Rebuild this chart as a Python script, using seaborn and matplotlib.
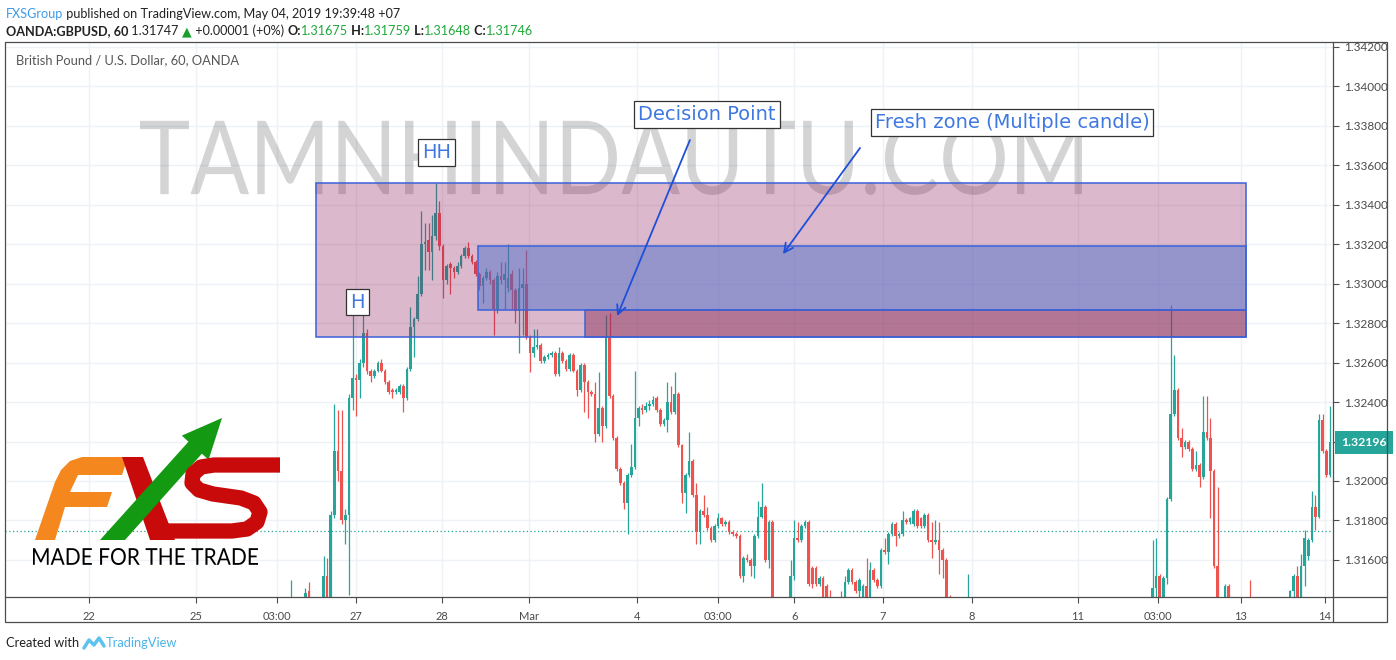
import numpy as np
import pandas as pd
import seaborn as sns
import matplotlib
matplotlib.use("Agg")
import matplotlib.pyplot as plt
import matplotlib.colors as mcolors
from matplotlib.patches import Rectangle, Polygon, PathPatch
from matplotlib.textpath import TextPath
from matplotlib.font_manager import FontProperties
from matplotlib.transforms import Affine2D, blended_transform_factory

sns.set_theme(style="white")
plt.rcParams["font.family"] = ["Lato", "DejaVu Sans"]

nan = np.nan

# ---------------- data (hourly GBPUSD bars, OANDA) ----------------
first_hour = 79  # hour index of first listed bar on the chart's time axis

opens = [
    1.3132, nan, nan, nan, 1.3140, 1.3144, nan, nan, nan, 1.3136,
    1.3152, 1.3141, 1.3183, 1.3215, 1.3205, 1.3180, 1.3183, 1.3242, 1.3252, 1.3251,
    1.3260, 1.3275, 1.3256, 1.3253, 1.3256, 1.3260, 1.3256, 1.3250, 1.3246, 1.3245,
    1.3245, 1.3248, 1.3242, 1.3257, 1.3278, 1.3282, 1.3295, 1.3320, 1.3322, 1.3316,
    1.3324, 1.3336, 1.3319, 1.3302, 1.3310, 1.3308, 1.3306, 1.3309, 1.3314, 1.3318,
    1.3314, 1.3311, 1.3305, 1.3299, 1.3303, 1.3306, 1.3302, 1.3287, 1.3304, 1.3302,
    1.3298, 1.3305, 1.3297, 1.3286, 1.3298, 1.3300, 1.3273, 1.3265, 1.3268, 1.3269,
    1.3261, 1.3263, 1.3264, 1.3265, 1.3254, 1.3265, 1.3261, 1.3257, 1.3264, 1.3256,
    1.3246, 1.3259, 1.3250, 1.3245, 1.3244, 1.3224, 1.3237, 1.3228, 1.3273, 1.3243,
    1.3222, 1.3206, 1.3199, 1.3189, 1.3203, 1.3207, 1.3232, 1.3237, 1.3236, 1.3238,
    1.3239, 1.3242, 1.3236, 1.3229, 1.3231, 1.3240, 1.3235, 1.3244, 1.3218, 1.3194,
    1.3203, 1.3210, 1.3193, 1.3174, 1.3185, 1.3183, 1.3176, 1.3170, 1.3177, 1.3181,
    1.3178, 1.3179, 1.3174, 1.3173, 1.3172, 1.3152, 1.3161, 1.3160, 1.3157, 1.3172,
    1.3182, 1.3187, 1.3160, 1.3179, nan, nan, nan, nan, 1.3130, 1.3152,
    1.3171, 1.3170, 1.3177, 1.3179, 1.3156, 1.3156, 1.3148, 1.3151, 1.3147, 1.3140,
    nan, nan, 1.3138, 1.3135, 1.3149, 1.3155, 1.3149, 1.3144, 1.3140, 1.3147,
    1.3140, 1.3155, 1.3150, 1.3147, 1.3165, 1.3164, 1.3173, 1.3178, 1.3172, 1.3173,
    1.3180, 1.3179, 1.3178, 1.3185, 1.3181, 1.3177, 1.3183, 1.3170, 1.3169, 1.3170,
    1.3165, 1.3160, 1.3135, nan, nan, nan, nan, 1.3130, nan, nan,
] + [nan] * 48 + [
    1.3135, 1.3146, 1.3152, 1.3140, 1.3151, 1.3191, 1.3234, 1.3246, 1.3222, 1.3217,
    1.3220, 1.3216, 1.3206, 1.3208, 1.3202, 1.3225, 1.3222, 1.3205, 1.3157, nan,
    1.3135, 1.3147, nan, nan, nan, nan, nan, 1.3138, nan, nan,
    nan, nan, nan, nan, nan, nan, nan, nan, 1.3135, 1.3144,
    1.3152, 1.3140, 1.3157, 1.3162, 1.3170, 1.3187, 1.3182, 1.3231, 1.3215, 1.3203,
]

highs = [
    1.3150, nan, nan, nan, 1.3146, 1.3149, nan, nan, nan, 1.3162,
    1.3161, 1.3185, 1.3239, 1.3236, 1.3236, 1.3186, 1.3244, 1.3284, 1.3254, 1.3262,
    1.3289, 1.3277, 1.3257, 1.3257, 1.3261, 1.3262, 1.3257, 1.3251, 1.3247, 1.3247,
    1.3249, 1.3249, 1.3258, 1.3288, 1.3283, 1.3304, 1.3337, 1.3331, 1.3331, 1.3335,
    1.3351, 1.3342, 1.3320, 1.3310, 1.3311, 1.3309, 1.3311, 1.3315, 1.3319, 1.3321,
    1.3315, 1.3312, 1.3306, 1.3304, 1.3308, 1.3307, 1.3303, 1.3306, 1.3311, 1.3311,
    1.3320, 1.3307, 1.3298, 1.3308, 1.3308, 1.3317, 1.3274, 1.3277, 1.3277, 1.3270,
    1.3264, 1.3265, 1.3266, 1.3266, 1.3268, 1.3266, 1.3262, 1.3265, 1.3265, 1.3257,
    1.3260, 1.3260, 1.3251, 1.3246, 1.3250, 1.3255, 1.3238, 1.3284, 1.3285, 1.3244,
    1.3223, 1.3207, 1.3200, 1.3204, 1.3219, 1.3256, 1.3238, 1.3239, 1.3240, 1.3241,
    1.3243, 1.3243, 1.3237, 1.3232, 1.3250, 1.3248, 1.3255, 1.3245, 1.3219, 1.3204,
    1.3225, 1.3211, 1.3199, 1.3186, 1.3193, 1.3187, 1.3177, 1.3178, 1.3184, 1.3182,
    1.3180, 1.3180, 1.3175, 1.3174, 1.3173, 1.3162, 1.3163, 1.3161, 1.3173, 1.3190,
    1.3199, 1.3188, 1.3180, 1.3180, nan, nan, nan, nan, 1.3160, 1.3180,
    1.3179, 1.3178, 1.3180, 1.3180, 1.3157, 1.3157, 1.3152, 1.3152, 1.3148, 1.3145,
    nan, nan, 1.3144, 1.3152, 1.3156, 1.3156, 1.3150, 1.3151, 1.3148, 1.3161,
    1.3159, 1.3156, 1.3151, 1.3166, 1.3171, 1.3174, 1.3179, 1.3179, 1.3174, 1.3185,
    1.3181, 1.3182, 1.3186, 1.3186, 1.3182, 1.3184, 1.3184, 1.3179, 1.3180, 1.3179,
    1.3166, 1.3161, 1.3142, nan, nan, nan, nan, 1.3153, nan, nan,
] + [nan] * 48 + [
    1.3170, 1.3171, 1.3153, 1.3152, 1.3192, 1.3289, 1.3264, 1.3247, 1.3227, 1.3221,
    1.3221, 1.3217, 1.3215, 1.3209, 1.3243, 1.3243, 1.3232, 1.3206, 1.3197, nan,
    1.3148, 1.3148, nan, nan, nan, nan, nan, 1.3150, nan, nan,
    nan, nan, nan, nan, nan, nan, nan, nan, 1.3145, 1.3153,
    1.3157, 1.3163, 1.3175, 1.3171, 1.3195, 1.3193, 1.3234, 1.3234, 1.3216, 1.3238,
]

lows = [
    1.3128, nan, nan, nan, 1.3138, 1.3136, nan, nan, nan, 1.3132,
    1.3136, 1.3137, 1.3181, 1.3200, 1.3178, 1.3168, 1.3142, 1.3236, 1.3233, 1.3242,
    1.3258, 1.3254, 1.3250, 1.3252, 1.3255, 1.3255, 1.3249, 1.3244, 1.3242, 1.3244,
    1.3244, 1.3235, 1.3241, 1.3256, 1.3263, 1.3281, 1.3294, 1.3307, 1.3307, 1.3302,
    1.3322, 1.3317, 1.3293, 1.3300, 1.3295, 1.3303, 1.3305, 1.3308, 1.3313, 1.3313,
    1.3310, 1.3304, 1.3297, 1.3290, 1.3302, 1.3300, 1.3274, 1.3285, 1.3300, 1.3287,
    1.3296, 1.3287, 1.3280, 1.3265, 1.3274, 1.3272, 1.3255, 1.3263, 1.3267, 1.3260,
    1.3260, 1.3262, 1.3263, 1.3253, 1.3253, 1.3260, 1.3256, 1.3256, 1.3255, 1.3243,
    1.3245, 1.3235, 1.3232, 1.3243, 1.3220, 1.3223, 1.3220, 1.3227, 1.3242, 1.3221,
    1.3205, 1.3198, 1.3186, 1.3173, 1.3202, 1.3206, 1.3228, 1.3234, 1.3235, 1.3236,
    1.3238, 1.3235, 1.3228, 1.3228, 1.3225, 1.3234, 1.3234, 1.3217, 1.3189, 1.3184,
    1.3202, 1.3192, 1.3168, 1.3168, 1.3182, 1.3175, 1.3169, 1.3169, 1.3176, 1.3177,
    1.3177, 1.3173, 1.3172, 1.3171, 1.3151, 1.3149, 1.3159, 1.3152, 1.3151, 1.3171,
    1.3181, 1.3159, 1.3156, 1.3125, nan, nan, nan, nan, 1.3125, 1.3150,
    1.3169, 1.3169, 1.3176, 1.3147, 1.3146, 1.3147, 1.3147, 1.3130, 1.3130, 1.3130,
    nan, nan, 1.3130, 1.3130, 1.3148, 1.3148, 1.3143, 1.3140, 1.3135, 1.3135,
    1.3138, 1.3149, 1.3146, 1.3146, 1.3163, 1.3158, 1.3172, 1.3167, 1.3171, 1.3172,
    1.3178, 1.3178, 1.3177, 1.3176, 1.3176, 1.3176, 1.3169, 1.3161, 1.3168, 1.3153,
    1.3151, 1.3125, 1.3125, nan, nan, nan, nan, 1.3125, nan, nan,
] + [nan] * 48 + [
    1.3130, 1.3140, 1.3135, 1.3135, 1.3148, 1.3190, 1.3233, 1.3221, 1.3212, 1.3216,
    1.3215, 1.3205, 1.3205, 1.3197, 1.3201, 1.3221, 1.3181, 1.3156, 1.3125, nan,
    1.3130, 1.3130, nan, nan, nan, nan, nan, 1.3130, nan, nan,
    nan, nan, nan, nan, nan, nan, nan, nan, 1.3130, 1.3140,
    1.3135, 1.3137, 1.3147, 1.3160, 1.3169, 1.3175, 1.3181, 1.3214, 1.3202, 1.3202,
]

closes = [
    1.3138, nan, nan, nan, 1.3143, 1.3141, nan, nan, nan, 1.3152,
    1.3141, 1.3183, 1.3215, 1.3205, 1.3180, 1.3183, 1.3242, 1.3252, 1.3251, 1.3260,
    1.3275, 1.3256, 1.3253, 1.3256, 1.3260, 1.3256, 1.3250, 1.3245, 1.3245, 1.3246,
    1.3248, 1.3242, 1.3257, 1.3278, 1.3282, 1.3295, 1.3320, 1.3321, 1.3316, 1.3324,
    1.3336, 1.3319, 1.3302, 1.3309, 1.3308, 1.3306, 1.3309, 1.3314, 1.3318, 1.3314,
    1.3311, 1.3305, 1.3299, 1.3303, 1.3306, 1.3302, 1.3287, 1.3304, 1.3302, 1.3305,
    1.3303, 1.3297, 1.3286, 1.3298, 1.3300, 1.3273, 1.3265, 1.3268, 1.3269, 1.3261,
    1.3263, 1.3264, 1.3265, 1.3254, 1.3265, 1.3261, 1.3257, 1.3264, 1.3256, 1.3246,
    1.3259, 1.3250, 1.3245, 1.3244, 1.3224, 1.3237, 1.3228, 1.3273, 1.3243, 1.3222,
    1.3206, 1.3199, 1.3189, 1.3203, 1.3207, 1.3232, 1.3237, 1.3236, 1.3238, 1.3239,
    1.3241, 1.3236, 1.3229, 1.3231, 1.3240, 1.3235, 1.3244, 1.3218, 1.3194, 1.3203,
    1.3210, 1.3193, 1.3174, 1.3185, 1.3183, 1.3176, 1.3170, 1.3177, 1.3181, 1.3178,
    1.3179, 1.3174, 1.3173, 1.3172, 1.3152, 1.3161, 1.3160, 1.3157, 1.3172, 1.3182,
    1.3187, 1.3160, 1.3179, 1.3130, nan, nan, nan, nan, 1.3152, 1.3171,
    1.3170, 1.3177, 1.3179, 1.3148, 1.3148, 1.3148, 1.3151, 1.3135, 1.3135, 1.3135,
    nan, nan, 1.3135, 1.3149, 1.3155, 1.3149, 1.3144, 1.3150, 1.3147, 1.3138,
    1.3155, 1.3150, 1.3147, 1.3165, 1.3164, 1.3173, 1.3178, 1.3172, 1.3173, 1.3180,
    1.3179, 1.3181, 1.3185, 1.3177, 1.3177, 1.3183, 1.3170, 1.3169, 1.3170, 1.3165,
    1.3160, 1.3130, 1.3130, nan, nan, nan, nan, 1.3135, nan, nan,
] + [nan] * 48 + [
    1.3146, 1.3152, 1.3140, 1.3151, 1.3191, 1.3234, 1.3246, 1.3222, 1.3217, 1.3220,
    1.3216, 1.3206, 1.3208, 1.3202, 1.3225, 1.3222, 1.3205, 1.3157, 1.3130, nan,
    1.3147, 1.3135, nan, nan, nan, nan, nan, 1.3135, nan, nan,
    nan, nan, nan, nan, nan, nan, nan, nan, 1.3144, 1.3152,
    1.3140, 1.3157, 1.3171, 1.3170, 1.3187, 1.3182, 1.3231, 1.3215, 1.3203, 1.32196,
]

last_price = 1.32196
header_price = 1.31747

x_tick_labels = ["22", "25", "03:00", "27", "28", "Mar", "4", "03:00",
                 "6", "7", "8", "11", "03:00", "13", "14"]
x_tick_hours = [23.2, 52.8, 75.1, 97.0, 120.7, 144.8, 174.6, 197.0,
                218.0, 242.5, 267.1, 296.4, 318.5, 341.4, 364.6]
y_ticks = [1.316, 1.318, 1.320, 1.322, 1.324, 1.326, 1.328, 1.330,
           1.332, 1.334, 1.336, 1.338, 1.340, 1.342]

# supply / demand zones drawn on the chart (time in hours, price)
zone_start = [85.9, 130.7, 160.2]
zone_end = [342.8, 342.8, 342.8]
zone_top = [1.33511, 1.33191, 1.32867]
zone_bottom = [1.32730, 1.32867, 1.32730]
zone_colors = [("#8a1658", 0.30), ("#5073cd", 0.50), ("#8c375f", 0.50)]

# text labels (time, price)
label_texts = ["HH", "H", "Decision Point", "Fresh zone (Multiple candle)"]
label_hours = [119.1, 97.4, 193.9, 278.2]
label_prices = [1.33663, 1.32907, 1.33858, 1.33817]

# arrows (tail -> tip)
arrow_tail_hours = [189.2, 236.2]
arrow_tail_prices = [1.33728, 1.33688]
arrow_tip_hours = [169.1, 214.9]
arrow_tip_prices = [1.32836, 1.33150]

GREEN = "#26a69a"
RED = "#ef5350"

df = pd.DataFrame({"o": opens, "h": highs, "l": lows, "c": closes})
df["t"] = first_hour + np.arange(len(df))
df = df.dropna().reset_index(drop=True)
df["up"] = df["c"] >= df["o"]
df["col"] = np.where(df["up"], GREEN, RED)

W, H = 1396, 660
fig = plt.figure(figsize=(W / 100, H / 100), dpi=100)
fig.patch.set_facecolor("white")

ax = fig.add_axes([5 / W, 63 / H, 1328 / W, 555 / H])
ax_o = fig.add_axes([0, 0, 1, 1], zorder=5)
ax_o.set_xlim(0, W)
ax_o.set_ylim(H, 0)
ax_o.axis("off")
ax_o.patch.set_alpha(0)

ax.set_facecolor("white")
ax.set_xlim(0, 366.85)
ax.set_ylim(1.31412, 1.34225)
ax.autoscale(False)

# watermark (behind the candles)
wm_prop = FontProperties(family="Lato", weight="normal")
wm_path = TextPath((0, 0), "TAMNHINDAUTU.COM", size=100, prop=wm_prop)
ext = wm_path.get_extents()
wm_tr = (Affine2D().translate(-ext.x0, -ext.y0)
         .scale(942 / ext.width, -75 / ext.height).translate(140, 195))
ax.add_patch(PathPatch(wm_tr.transform_path(wm_path), transform=ax_o.transData,
                       facecolor="black", edgecolor="none", alpha=0.17, zorder=0.8))

# grid
ax.set_xticks(x_tick_hours)
ax.set_xticklabels(x_tick_labels)
ax.set_yticks(y_ticks)
# the tick hidden behind the last-price tag is left without a label
ax.set_yticklabels(["" if abs(v - last_price) < 0.0008 else f"{v:.5f}" for v in y_ticks])
ax.grid(True, color="#eef1f6", lw=1.0)
ax.set_axisbelow(True)
for s in ax.spines.values():
    s.set_visible(False)
ax.yaxis.tick_right()
ax.tick_params(axis="y", right=True, left=False, length=4, width=0.8, color="#4d4d4d",
               labelsize=8.5, labelcolor="#4a4a4a", pad=4)
ax.tick_params(axis="x", bottom=True, length=4, width=0.8, color="#4d4d4d",
               labelsize=8, labelcolor="#4a4a4a", pad=6)

# current price dotted line
ax.axhline(header_price, color=GREEN, lw=0.9, ls=(0, (1, 2)), zorder=1.5)

# candles
ax.vlines(df["t"], df["l"], df["h"], colors=df["col"], lw=0.9, zorder=2)
body_bottom = np.minimum(df["o"], df["c"])
body_h = np.maximum((df["c"] - df["o"]).abs(), 0.00004)
ax.bar(df["t"], body_h, bottom=body_bottom, width=0.72, color=df["col"],
       linewidth=0, zorder=3)

# zones
for x0, x1, top, bot, (colr, a) in zip(zone_start, zone_end, zone_top, zone_bottom, zone_colors):
    ax.add_patch(Rectangle((x0, bot), x1 - x0, top - bot,
                           facecolor=mcolors.to_rgba(colr, a),
                           edgecolor="#3a62d9", lw=1.1, zorder=4))

# labels
for txt, hx, py in zip(label_texts, label_hours, label_prices):
    ax.text(hx, py, txt, ha="center", va="center", fontsize=14,
            family="DejaVu Sans", color="#3f78e0", zorder=6,
            bbox=dict(boxstyle="square,pad=0.2", fc="white", ec="#333333", lw=0.9))

for th, tp, hh, hp in zip(arrow_tail_hours, arrow_tail_prices, arrow_tip_hours, arrow_tip_prices):
    ax.annotate("", xy=(hh, hp), xytext=(th, tp),
                arrowprops=dict(arrowstyle="->", color="#1f4fd8", lw=1.3,
                                mutation_scale=16, shrinkA=0, shrinkB=0), zorder=6)

# last price tag on the price scale
btr = blended_transform_factory(ax.transAxes, ax.transData)
ax.text(1.0060, last_price, f"{last_price:.5f}", transform=btr, ha="left", va="center",
        fontsize=8.8, fontweight="bold", color="white", clip_on=False, zorder=10,
        bbox=dict(boxstyle="square,pad=0.5", fc=GREEN, ec="none"))

# ---------------- overlay: frame, header, logo ----------------
fc = "#4d4d4d"
ax_o.plot([5, 1387, 1387, 5, 5], [42, 42, 622, 622, 42], color=fc, lw=0.9)
ax_o.plot([1333, 1333], [42, 622], color=fc, lw=0.9)
ax_o.plot([5, 1387], [597, 597], color=fc, lw=0.9)


def chain(parts, x, y, size):
    prev = None
    for txt, color, weight in parts:
        if prev is None:
            prev = ax_o.text(x, y, txt, color=color, fontsize=size, fontweight=weight,
                             va="baseline", ha="left")
        else:
            prev = ax_o.annotate(txt, xy=(1, 0), xycoords=prev, va="bottom", ha="left",
                                 color=color, fontsize=size, fontweight=weight)
    return prev


DARK = "#222222"
VAL = "#1fa83a"
chain([("FXSGroup", "#3d9be9", "normal"),
       (" published on TradingView.com, May 04, 2019 19:39:48 +07", DARK, "normal")],
      6, 18, 9.1)
chain([("OANDA:GBPUSD, 60", DARK, "bold"), (" 1.31747 ", DARK, "normal"),
       ("\u25B2", "#1a9e2c", "normal"), (" +0.00001 (+0%) ", DARK, "normal"),
       ("O:", DARK, "bold"), ("1.31675", VAL, "normal"), (" H:", DARK, "bold"),
       ("1.31759", VAL, "normal"), (" L:", DARK, "bold"), ("1.31648", VAL, "normal"),
       (" C:", DARK, "bold"), ("1.31746", VAL, "normal")],
      6, 35, 9.1)
ax_o.text(16, 64, "British Pound / U.S. Dollar, 60, OANDA", color="#555555",
          fontsize=9.3, va="baseline", ha="left")
ax_o.text(6, 647, "Created with", color=DARK, fontsize=9.3, va="baseline", ha="left")
ax_o.plot([84, 89, 94, 99, 104], [648, 640, 645, 638, 646], color="#5ec2f0", lw=2.5,
          solid_joinstyle="round", solid_capstyle="round")
ax_o.text(106, 647, "TradingView", color="#4cb3ea", fontsize=9.3, va="baseline", ha="left")

# FXS logo
ax_o.add_patch(Polygon([(35, 540), (55, 540), (65, 507), (107, 507), (112, 492), (70, 492),
                        (78, 475), (122, 475), (128, 457), (82, 457), (70, 461), (61, 470),
                        (55, 482)], closed=True, fc="#f5871f", ec="none"))
ax_o.add_patch(Polygon([(122, 457), (143, 457), (175, 540), (150, 540)], closed=True,
                       fc="#c80a0a", ec="none"))
ax_o.plot([280, 214, 201, 193, 192, 199, 213, 241, 254, 260, 257, 247, 232, 158],
          [465, 465, 467, 474, 483, 490, 494, 498, 503, 512, 522, 529, 531, 531],
          color="#c80a0a", lw=11, solid_joinstyle="round", solid_capstyle="butt")
ax_o.add_patch(Polygon([(100, 540), (188.5, 441.7), (181.8, 435.6), (222, 418),
                        (208.6, 459.8), (201.9, 453.7), (125, 540)], closed=True,
                       fc="#139a12", ec="none"))
mp = TextPath((0, 0), "MADE FOR THE TRADE", size=100, prop=FontProperties(family="Lato"))
me = mp.get_extents()
m_tr = (Affine2D().translate(-me.x0, -me.y0)
        .scale(225 / me.width, -17 / me.height).translate(33, 565))
ax_o.add_patch(PathPatch(m_tr.transform_path(mp), fc="black", ec="none"))

fig.savefig("out.png", dpi=100, facecolor="white")
